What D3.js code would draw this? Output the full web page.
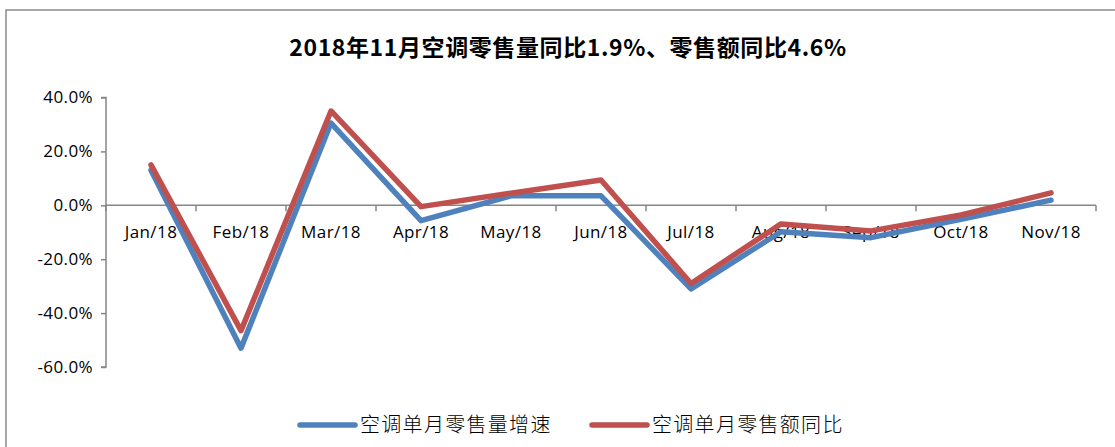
<!DOCTYPE html>
<html>
<head>
<meta charset="utf-8">
<script src="https://cdn.jsdelivr.net/npm/d3@7"></script>
<style>
  body { margin: 0; background: #fff; }
  svg { display: block; }
</style>
</head>
<body>
<svg id="chart"></svg>
<script>
// data (percent)
const months = ['Jan/18', 'Feb/18', 'Mar/18', 'Apr/18', 'May/18', 'Jun/18',
                'Jul/18', 'Aug/18', 'Sep/18', 'Oct/18', 'Nov/18'];
const volumeGrowth = [13, -53, 30.5, -5.7, 3.5, 3.5, -31, -9.8, -12, -5.2, 1.9];
const salesGrowth = [15, -46.5, 35, -0.5, 4.5, 9.4, -29, -6.9, -9.5, -3.6, 4.6];
const yTicks = [40, 20, 0, -20, -40, -60];
const seriesNames = ['空调单月零售量增速', '空调单月零售额同比'];
const seriesColors = ['#4f81bd', '#c0504d'];
const title = '2018年11月空调零售量同比1.9%、零售额同比4.6%';

const W = 1115, H = 447;
const margin = {top: 97, right: 19, bottom: 80, left: 106};

const svg = d3.select('#chart').attr('width', W).attr('height', H);

// outer frame (right and bottom edges fall off the picture)
svg.append('rect')
    .attr('x', 6).attr('y', 10)
    .attr('width', W + 10).attr('height', H + 10)
    .attr('fill', 'none')
    .attr('stroke', '#8a8a8a')
    .attr('stroke-width', 1.5);

svg.append('text')
    .attr('x', 568).attr('y', 56)
    .attr('text-anchor', 'middle')
    .attr('font-family', '"Noto Sans CJK SC", sans-serif')
    .attr('font-weight', 'bold')
    .attr('font-size', 23)
    .attr('letter-spacing', 0.6)
    .attr('fill', '#000')
    .text(title);

const width = W - margin.left - margin.right;
const chart = svg.append('g')
    .attr('transform', `translate(${margin.left},0)`);

const xScale = d3.scaleBand().domain(months).range([0, width]);
const yScale = d3.scaleLinear().domain([-60, 40]).range([367, 97.5]);

// y axis
const yAxisG = chart.append('g')
    .call(d3.axisLeft(yScale).tickValues(yTicks).tickSize(5).tickPadding(8)
        .tickFormat(d => d.toFixed(1) + '%'));
yAxisG.select('.domain').attr('stroke', '#868686').attr('stroke-width', 1.5)
    .attr('d', `M-5,${yScale(40)}H0V${yScale(-60)}H-5`);
yAxisG.selectAll('.tick line').attr('stroke', '#868686').attr('stroke-width', 1.5);
yAxisG.selectAll('text')
    .attr('font-family', '"Open Sans", sans-serif')
    .attr('font-size', 17)
    .attr('letter-spacing', 0.4)
    .attr('fill', '#000');

// x axis at zero line, ticks between categories
const boundaries = d3.range(months.length + 1).map(i => i * xScale.bandwidth());
const xAxisG = chart.append('g').attr('transform', `translate(0,${yScale(0)})`);
xAxisG.append('line')
    .attr('x1', 0).attr('x2', width)
    .attr('stroke', '#868686').attr('stroke-width', 1.5);
xAxisG.selectAll('.xtick').data(boundaries).join('line')
    .attr('class', 'xtick')
    .attr('x1', d => d).attr('x2', d => d)
    .attr('y1', 0).attr('y2', 6)
    .attr('stroke', '#868686').attr('stroke-width', 1.5);
xAxisG.selectAll('.xlabel').data(months).join('text')
    .attr('class', 'xlabel')
    .attr('x', d => xScale(d) + xScale.bandwidth() / 2)
    .attr('y', 33)
    .attr('text-anchor', 'middle')
    .attr('font-family', '"Open Sans", sans-serif')
    .attr('font-size', 17)
    .attr('letter-spacing', 0.4)
    .attr('fill', '#000')
    .text(d => d);

const line = d3.line()
    .x((d, i) => xScale(months[i]) + xScale.bandwidth() / 2)
    .y(d => yScale(d));

[volumeGrowth, salesGrowth].forEach((s, k) => {
  chart.append('path')
      .datum(s)
      .attr('d', line)
      .attr('fill', 'none')
      .attr('stroke', seriesColors[k])
      .attr('stroke-width', 5.5)
      .attr('stroke-linejoin', 'round')
      .attr('stroke-linecap', 'round');
});

// legend
const legendX = [300, 592];
const legend = svg.selectAll('.legend').data(seriesNames).join('g')
    .attr('class', 'legend')
    .attr('transform', (d, i) => `translate(${legendX[i]},425)`);
legend.append('line')
    .attr('x1', 0).attr('x2', 55)
    .attr('stroke', (d, i) => seriesColors[i])
    .attr('stroke-width', 5.5)
    .attr('stroke-linecap', 'round');
legend.append('text')
    .attr('x', 60).attr('y', 7)
    .attr('font-family', '"Noto Sans CJK SC", sans-serif')
    .attr('font-weight', 300)
    .attr('font-size', 20)
    .attr('letter-spacing', 1.3)
    .attr('fill', '#000')
    .text(d => d);
</script>
</body>
</html>
